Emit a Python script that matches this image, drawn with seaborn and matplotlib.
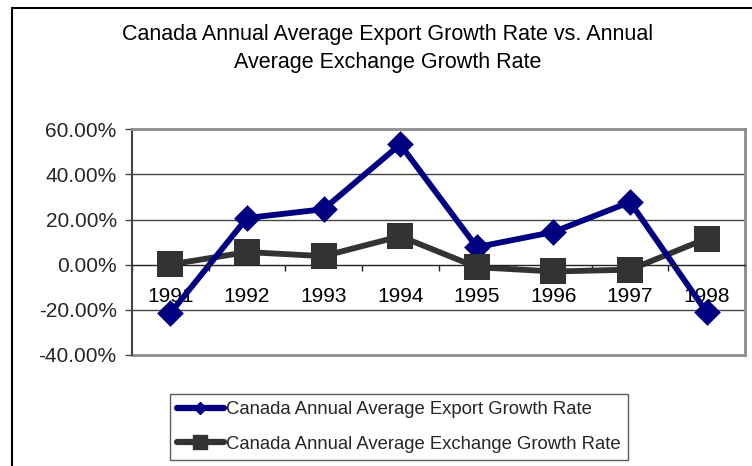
import numpy as np
import pandas as pd
import matplotlib
matplotlib.use("Agg")
import matplotlib.pyplot as plt
from matplotlib.lines import Line2D
from matplotlib.patches import Rectangle
from matplotlib.ticker import FuncFormatter
import seaborn as sns

# Annual average growth rates, in percent
years = [1991, 1992, 1993, 1994, 1995, 1996, 1997, 1998]
export_growth = [-21.5, 20.7, 24.6, 53.3, 7.8, 14.5, 27.8, -21.1]
exchange_growth = [0.1, 5.6, 3.8, 12.6, -1.1, -3.0, -2.2, 11.6]
export_label = "Canada Annual Average Export Growth Rate"
exchange_label = "Canada Annual Average Exchange Growth Rate"
title_text = ("Canada Annual Average Export Growth Rate vs. Annual\n"
              "Average Exchange Growth Rate")
y_ticks = [-40, -20, 0, 20, 40, 60]

NAVY = "#000080"
DARK = "#333333"

sns.set_style("white")
plt.rcParams["font.family"] = ["Liberation Sans", "DejaVu Sans"]

df_export = pd.DataFrame({"year": years, "rate": export_growth})
df_exchange = pd.DataFrame({"year": years, "rate": exchange_growth})

fig = plt.figure(figsize=(7.52, 4.66), dpi=100)
ax = fig.add_axes([132 / 752, 1 - 355 / 466, (745 - 132) / 752, (355 - 129.3) / 466])

# Connecting lines first, markers on top of both lines
sns.lineplot(data=df_exchange, x="year", y="rate", color=DARK, linewidth=4.2,
             ax=ax, zorder=2, legend=False)
sns.lineplot(data=df_export, x="year", y="rate", color=NAVY, linewidth=4.2,
             ax=ax, zorder=2.1, legend=False)
sns.scatterplot(data=df_export, x="year", y="rate", color=NAVY, marker="D",
                s=185, linewidth=0, ax=ax, zorder=3, legend=False)
sns.scatterplot(data=df_exchange, x="year", y="rate", color=DARK, marker="s",
                s=340, linewidth=0, ax=ax, zorder=3.1, legend=False)

ax.set_xlim(years[0] - 0.5, years[-1] + 0.5)
ax.set_ylim(y_ticks[0], y_ticks[-1])
ax.set_yticks(y_ticks)
ax.yaxis.set_major_formatter(FuncFormatter(lambda v, p: f"{v:.2f}%"))
ax.set_xticks(years)
ax.set_xticklabels([str(y) for y in years])
ax.set_xticks(np.arange(years[0] - 0.5, years[-1] + 1.0, 1.0), minor=True)
ax.set_xlabel("")
ax.set_ylabel("")

# Horizontal gridlines
for v in y_ticks[1:-1]:
    if v != 0:
        ax.axhline(v, color="#444444", linewidth=1, zorder=1)

# Category axis sits on the zero line
ax.spines["bottom"].set_position(("data", 0))
ax.spines["bottom"].set_color("#222222")
ax.spines["bottom"].set_linewidth(1)
ax.spines["left"].set_color("#444444")
ax.spines["left"].set_linewidth(1.5)
for side in ("top", "right"):
    ax.spines[side].set_color("#8c8c8c")
    ax.spines[side].set_linewidth(2)
# bottom border of the plot area
ax.axhline(y_ticks[0], color="#8c8c8c", linewidth=2, clip_on=False, zorder=1.5)

ax.tick_params(axis="x", which="major", length=0, pad=16, labelsize=15,
               labelcolor="black")
ax.tick_params(axis="x", which="minor", length=4, width=1, direction="out",
               color="#222222", bottom=True)
ax.tick_params(axis="y", which="major", length=5, width=1, direction="out",
               color="#444444", pad=6, labelsize=15, left=True)

# Title
fig.text(388 / 752, 1 - 48.5 / 466, title_text, ha="center", va="center",
         fontsize=15.5, color="black", linespacing=1.4)

# Legend
handles = [
    Line2D([], [], color=NAVY, linewidth=4.5, marker="D", markersize=6,
           solid_capstyle="round"),
    Line2D([], [], color=DARK, linewidth=4.5, marker="s", markersize=10,
           solid_capstyle="round"),
]
leg = fig.legend(handles, [export_label, exchange_label], loc="upper left",
                 bbox_to_anchor=(170 / 752, 1 - 394 / 466), borderaxespad=0,
                 fontsize=13.3, frameon=True, fancybox=False, handlelength=2.5,
                 handletextpad=0.15, borderpad=0.4, labelspacing=0.95)
leg.get_frame().set_edgecolor("#333333")
leg.get_frame().set_linewidth(1)

# Outer chart frame
fig.add_artist(Rectangle((11.5 / 752, -0.2), 1.2, 1.2 - 7.5 / 466,
                         transform=fig.transFigure, fill=False,
                         edgecolor="black", linewidth=1.5))

fig.savefig("out.png", dpi=100)
